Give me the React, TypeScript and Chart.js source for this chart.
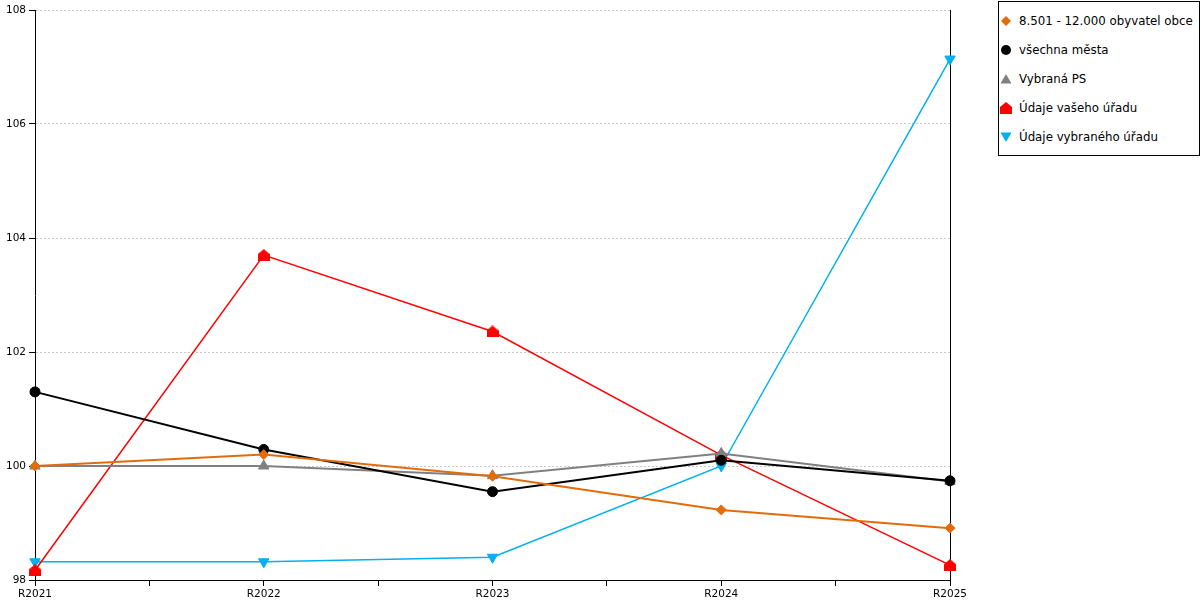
import { useEffect, useRef } from "react";
import { Chart, registerables } from "chart.js";

Chart.register(...registerables);

const categories = ["R2021", "R2022", "R2023", "R2024", "R2025"];
const obyvatelObce = [100.0, 100.2, 99.82, 99.23, 98.91];
const vsechnaMesta = [101.3, 100.29, 99.55, 100.1, 99.74];
const vybranaPS = [100.0, 100.0, 99.83, 100.22, 99.73];
const vaseUrad = [98.17, 103.7, 102.36, 100.19, 98.26];
const vybranyUrad = [98.32, 98.32, 98.4, 100.0, 107.14];
const yMin = 98;
const yMax = 108;
const yStep = 2;

const FONT = "'DejaVu Sans', Verdana, sans-serif";

const series = [
  { label: "8.501 - 12.000 obyvatel obce", data: obyvatelObce, color: "#e36c0a", shape: "diamond" },
  { label: "všechna města", data: vsechnaMesta, color: "#000000", shape: "circle" },
  { label: "Vybraná PS", data: vybranaPS, color: "#808080", shape: "triangle" },
  { label: "Údaje vašeho úřadu", data: vaseUrad, color: "#ff0000", shape: "house" },
  { label: "Údaje vybraného úřadu", data: vybranyUrad, color: "#00b0f0", shape: "down" },
];

// little house marker, chart.js has no such point style
const makeHouse = (color: string) => {
  const c = document.createElement("canvas");
  c.width = 12;
  c.height = 12;
  const ctx = c.getContext("2d")!;
  ctx.fillStyle = color;
  ctx.beginPath();
  ctx.moveTo(6, 0);
  ctx.lineTo(12, 5);
  ctx.lineTo(12, 12);
  ctx.lineTo(0, 12);
  ctx.lineTo(0, 5);
  ctx.closePath();
  ctx.fill();
  return c;
};

const pointFor = (shape: string, color: string) => {
  switch (shape) {
    case "diamond":
      return { pointStyle: "rectRot", pointRadius: 5, pointRotation: 0 };
    case "circle":
      return { pointStyle: "circle", pointRadius: 5, pointRotation: 0 };
    case "triangle":
      return { pointStyle: "triangle", pointRadius: 6, pointRotation: 0 };
    case "down":
      return { pointStyle: "triangle", pointRadius: 6, pointRotation: 180 };
    default:
      return { pointStyle: makeHouse(color), pointRadius: 6, pointRotation: 0 };
  }
};

const LegendMarker = ({ shape, color }: { shape: string; color: string }) => {
  let el;
  if (shape === "diamond") el = <polygon points="6,1 11,6 6,11 1,6" fill={color} />;
  else if (shape === "circle") el = <circle cx="6" cy="6" r="5" fill={color} />;
  else if (shape === "triangle") el = <polygon points="6,1 11.5,10.5 0.5,10.5" fill={color} />;
  else if (shape === "down") el = <polygon points="0.5,1.5 11.5,1.5 6,11" fill={color} />;
  else el = <polygon points="6,0 12,5 12,12 0,12 0,5" fill={color} />;
  return (
    <svg width="12" height="12" style={{ position: "absolute", left: 1, top: 2 }}>
      {el}
    </svg>
  );
};

export default function App() {
  const chartRef = useRef<HTMLCanvasElement>(null);

  useEffect(() => {
    if (!chartRef.current) return;
    const chart = new Chart(chartRef.current, {
      type: "line",
      data: {
        datasets: series.map((s) => ({
          label: s.label,
          data: categories.map((_, i) => ({ x: i, y: s.data[i] })),
          borderColor: s.color,
          backgroundColor: s.color,
          pointBorderColor: s.color,
          pointBackgroundColor: s.color,
          borderWidth: s.shape === "house" || s.shape === "down" ? 1.5 : 2,
          pointBorderWidth: 1,
          tension: 0,
          fill: false,
          clip: false,
          ...pointFor(s.shape, s.color),
        })),
      },
      options: {
        animation: false,
        responsive: false,
        layout: { padding: { top: 10, right: 250, left: 0, bottom: 0 } },
        plugins: {
          legend: { display: false },
          tooltip: { enabled: false },
        },
        scales: {
          x: {
            type: "linear",
            min: 0,
            max: categories.length - 1,
            afterFit: (scale) => {
              scale.height = 20;
            },
            afterBuildTicks: (scale) => {
              const t = [];
              for (let v = 0; v <= categories.length - 1; v += 0.5) t.push({ value: v });
              scale.ticks = t;
            },
            ticks: {
              autoSkip: false,
              maxRotation: 0,
              padding: 2,
              color: "#000",
              font: { family: FONT, size: 10.5 },
              callback: (v) => (Number.isInteger(v) ? categories[v as number] : ""),
            },
            grid: {
              drawOnChartArea: true,
              color: (ctx) => (ctx.tick && ctx.tick.value === categories.length - 1 ? "#000" : "rgba(0,0,0,0)"),
              tickColor: "#000",
              tickLength: 6,
            },
            border: { display: true, color: "#000", width: 1 },
          },
          y: {
            min: yMin,
            max: yMax,
            afterFit: (scale) => {
              scale.width = 35;
            },
            ticks: {
              stepSize: yStep,
              padding: 3,
              color: "#000",
              font: { family: FONT, size: 10.5 },
            },
            grid: {
              color: "#c8c8c8",
              tickColor: "#000",
              tickLength: 6,
            },
            border: { display: true, color: "#000", width: 1, dash: [2, 2] },
          },
        },
      },
    });
    return () => {
      chart.destroy();
    };
  }, []);

  return (
    <div style={{ position: "absolute", left: 0, top: 0, width: 1200, height: 600, background: "#fff" }}>
      <canvas ref={chartRef} width={1200} height={600} style={{ position: "absolute", left: 0, top: 0 }} />
      <div
        style={{
          position: "absolute",
          left: 998,
          top: 1,
          width: 200,
          height: 153,
          border: "1px solid #000",
          background: "#fff",
          fontFamily: FONT,
          fontSize: 11.8,
          color: "#000",
        }}
      >
        {series.map((s, i) => (
          <div key={s.label} style={{ position: "absolute", left: 0, top: 11 + i * 29, height: 16, width: 200 }}>
            <LegendMarker shape={s.shape} color={s.color} />
            <span style={{ position: "absolute", left: 20, top: 0, lineHeight: "16px", whiteSpace: "nowrap" }}>
              {s.label}
            </span>
          </div>
        ))}
      </div>
    </div>
  );
}
